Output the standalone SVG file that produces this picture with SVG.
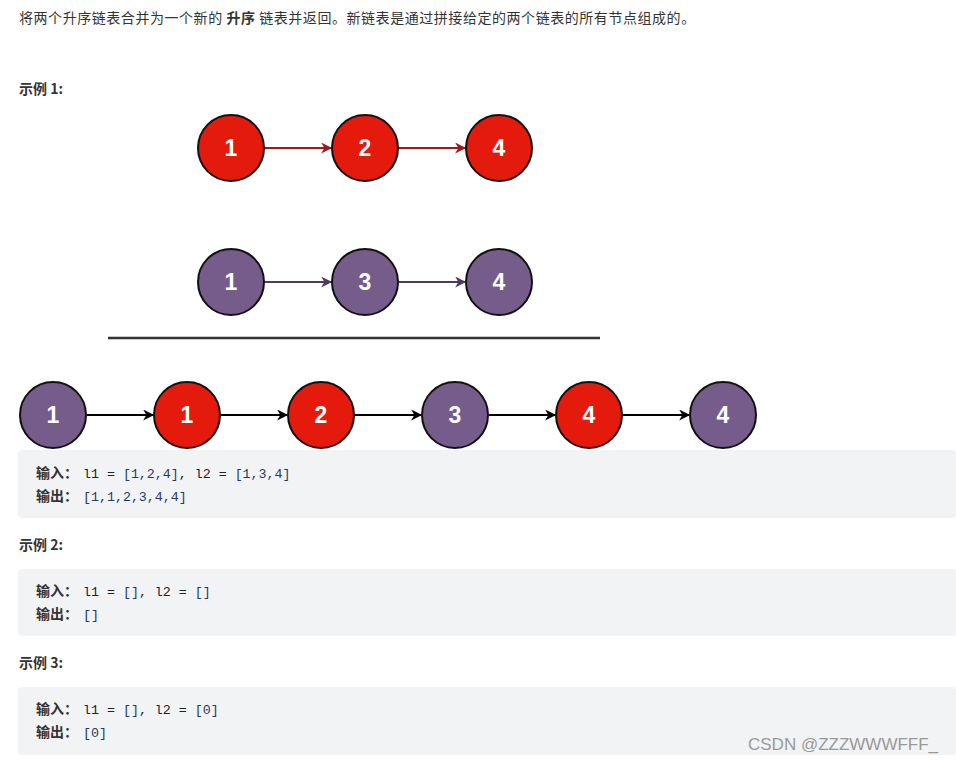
<svg xmlns="http://www.w3.org/2000/svg" width="956" height="761" viewBox="0 0 956 761">
<style>
.t{font-family:"Noto Sans CJK SC","Noto Sans",sans-serif;font-size:14px;fill:#333}
.h{letter-spacing:0.55px}
.b{font-weight:bold}
.m{font-family:"Liberation Mono","DejaVu Sans Mono",monospace;font-size:13.3px;fill:#222}
.v{fill:#1f3a68}
.n{font-family:"Liberation Sans",Arial,sans-serif;font-size:23px;font-weight:bold;fill:#fff;text-anchor:middle}
.red{fill:#e31a0c;stroke:#111;stroke-width:2}
.pur{fill:#765c8b;stroke:#111;stroke-width:2}
.box{fill:#f2f3f5}
</style>
<defs>
<marker id="ar" viewBox="0 0 10 10" refX="9" refY="5" markerWidth="13" markerHeight="11" orient="auto" markerUnits="userSpaceOnUse">
<path d="M0,0 L10,5 L0,10 L3,5 Z" fill="#a3161c"/>
</marker>
<marker id="ap" viewBox="0 0 10 10" refX="9" refY="5" markerWidth="13" markerHeight="11" orient="auto" markerUnits="userSpaceOnUse">
<path d="M0,0 L10,5 L0,10 L3,5 Z" fill="#4b3a5c"/>
</marker>
<marker id="ak" viewBox="0 0 10 10" refX="9" refY="5" markerWidth="13" markerHeight="11" orient="auto" markerUnits="userSpaceOnUse">
<path d="M0,0 L10,5 L0,10 L3,5 Z" fill="#000"/>
</marker>
</defs>
<rect width="956" height="761" fill="#fff"/>
<text class="t h" x="19" y="23">将两个升序链表合并为一个新的 <tspan class="b">升序</tspan> 链表并返回。新链表是通过拼接给定的两个链表的所有节点组成的。</text>
<text class="t b" x="19" y="94">示例 1:</text>
<g id="connectors">
<line x1="265" y1="148" x2="331" y2="148" stroke="#a3161c" stroke-width="2" marker-end="url(#ar)"/>
<line x1="399" y1="148" x2="465" y2="148" stroke="#a3161c" stroke-width="2" marker-end="url(#ar)"/>
<line x1="265" y1="282" x2="331" y2="282" stroke="#4b3a5c" stroke-width="2" marker-end="url(#ap)"/>
<line x1="399" y1="282" x2="465" y2="282" stroke="#4b3a5c" stroke-width="2" marker-end="url(#ap)"/>
<line x1="87" y1="415" x2="153" y2="415" stroke="#000" stroke-width="2" marker-end="url(#ak)"/>
<line x1="221" y1="415" x2="287" y2="415" stroke="#000" stroke-width="2" marker-end="url(#ak)"/>
<line x1="355" y1="415" x2="421" y2="415" stroke="#000" stroke-width="2" marker-end="url(#ak)"/>
<line x1="489" y1="415" x2="555" y2="415" stroke="#000" stroke-width="2" marker-end="url(#ak)"/>
<line x1="623" y1="415" x2="689" y2="415" stroke="#000" stroke-width="2" marker-end="url(#ak)"/>
</g>
<g id="a1"><circle class="red" cx="231" cy="148" r="33"/><text class="n" x="231" y="156">1</text></g>
<g id="a2"><circle class="red" cx="365" cy="148" r="33"/><text class="n" x="365" y="156">2</text></g>
<g id="a4"><circle class="red" cx="499" cy="148" r="33"/><text class="n" x="499" y="156">4</text></g>
<g id="b1"><circle class="pur" cx="231" cy="282" r="33"/><text class="n" x="231" y="290">1</text></g>
<g id="b3"><circle class="pur" cx="365" cy="282" r="33"/><text class="n" x="365" y="290">3</text></g>
<g id="b4"><circle class="pur" cx="499" cy="282" r="33"/><text class="n" x="499" y="290">4</text></g>
<line x1="108" y1="338" x2="600" y2="338" stroke="#333" stroke-width="2.5"/>
<g id="c1"><circle class="pur" cx="53" cy="415" r="33"/><text class="n" x="53" y="423">1</text></g>
<g id="c2"><circle class="red" cx="187" cy="415" r="33"/><text class="n" x="187" y="423">1</text></g>
<g id="c3"><circle class="red" cx="321" cy="415" r="33"/><text class="n" x="321" y="423">2</text></g>
<g id="c4"><circle class="pur" cx="455" cy="415" r="33"/><text class="n" x="455" y="423">3</text></g>
<g id="c5"><circle class="red" cx="589" cy="415" r="33"/><text class="n" x="589" y="423">4</text></g>
<g id="c6"><circle class="pur" cx="723" cy="415" r="33"/><text class="n" x="723" y="423">4</text></g>
<rect class="box" x="18" y="450" width="938" height="68" rx="4"/>
<text class="t b" x="36" y="478">输入：</text>
<text class="m" x="83" y="478">l1 = <tspan class="v">[1,2,4]</tspan>, l2 = <tspan class="v">[1,3,4]</tspan></text>
<text class="t b" x="36" y="501">输出：</text>
<text class="m v" x="83" y="501">[1,1,2,3,4,4]</text>
<text class="t b" x="19" y="550">示例 2:</text>
<rect class="box" x="18" y="569" width="938" height="67" rx="4"/>
<text class="t b" x="36" y="596">输入：</text>
<text class="m" x="83" y="596">l1 = <tspan class="v">[]</tspan>, l2 = <tspan class="v">[]</tspan></text>
<text class="t b" x="36" y="619">输出：</text>
<text class="m v" x="83" y="619">[]</text>
<text class="t b" x="19" y="668">示例 3:</text>
<rect class="box" x="18" y="687" width="938" height="68" rx="4"/>
<text class="t b" x="36" y="714">输入：</text>
<text class="m" x="83" y="714">l1 = <tspan class="v">[]</tspan>, l2 = <tspan class="v">[0]</tspan></text>
<text class="t b" x="36" y="737">输出：</text>
<text class="m v" x="83" y="737">[0]</text>
<text x="748" y="750" font-family="Liberation Sans,Arial,sans-serif" font-size="17" fill="#999">CSDN @ZZZWWWFFF_</text>
</svg>
